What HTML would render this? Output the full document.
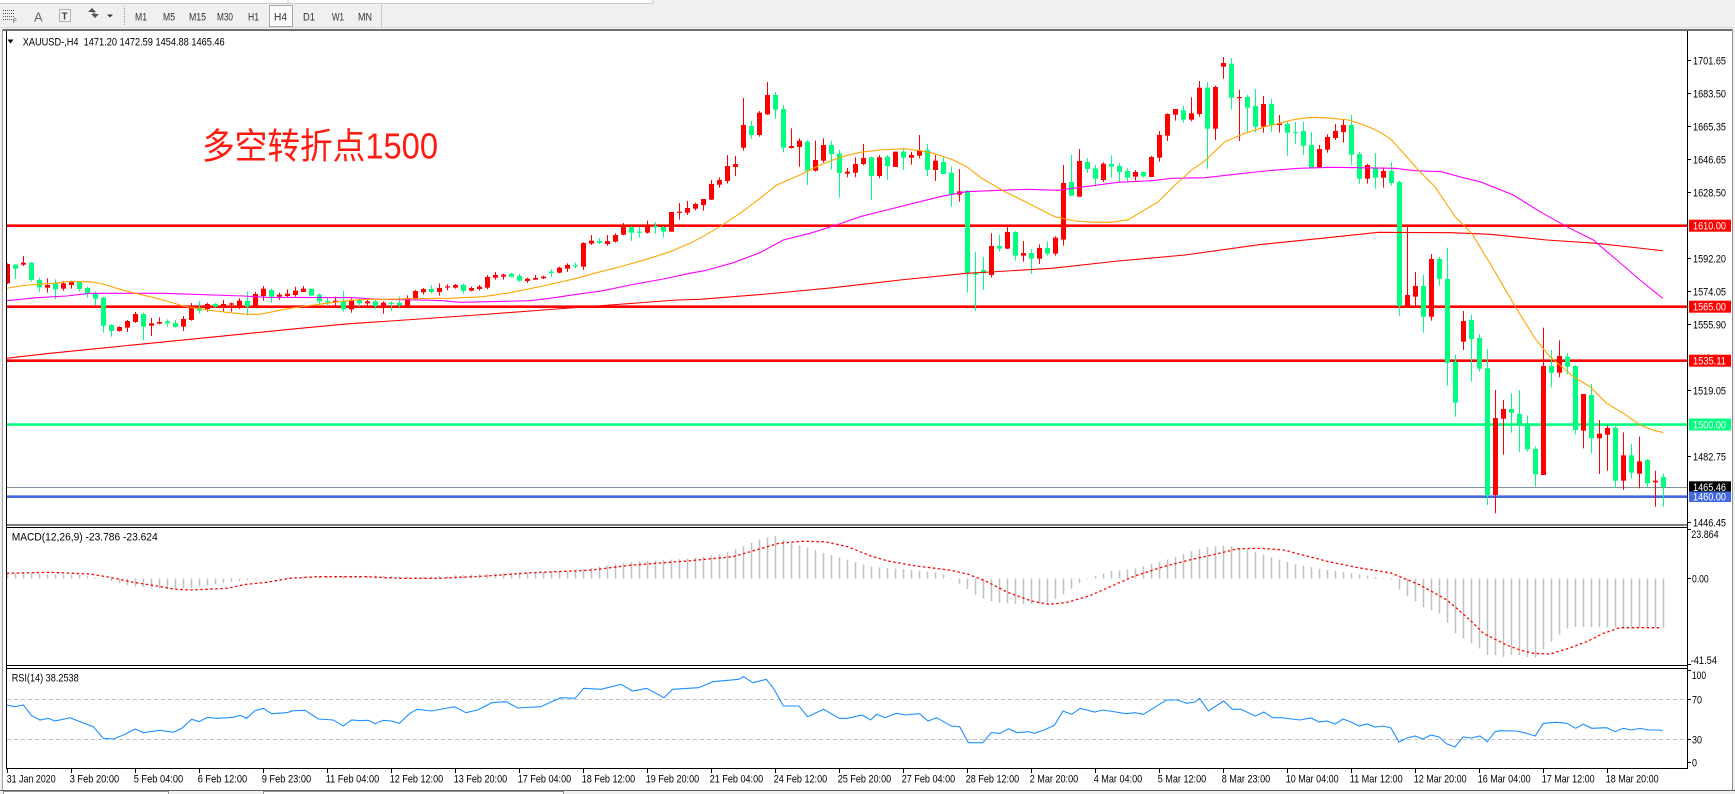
<!DOCTYPE html>
<html><head><meta charset="utf-8">
<style>
html,body{margin:0;padding:0;background:#f0f0f0;}
body{width:1735px;height:794px;overflow:hidden;position:relative;}
svg{position:absolute;left:0;top:0;}
text{font-family:"Liberation Sans","Noto Sans CJK SC",sans-serif;}
</style></head><body>
<svg id="s" width="1735" height="794" xmlns="http://www.w3.org/2000/svg">
<defs>
<clipPath id="cMain"><rect x="7" y="32" width="1680" height="493"/></clipPath>
<clipPath id="cMacd"><rect x="7" y="528" width="1680" height="137.5"/></clipPath>
<clipPath id="cRsi"><rect x="7" y="669" width="1680" height="99.5"/></clipPath>
</defs>
<!-- toolbar -->
<rect x="0" y="0" width="1735" height="29" fill="#f0f0f0"/>
<rect x="0" y="0" width="653" height="3.5" fill="#fdfdfd"/>
<line x1="0" y1="3.5" x2="653" y2="3.5" stroke="#c8c8c8"/>
<line x1="288" y1="0" x2="288" y2="3.5" stroke="#c8c8c8"/>
<line x1="653" y1="0" x2="653" y2="3.5" stroke="#c8c8c8"/>
<line x1="0" y1="27.5" x2="1735" y2="27.5" stroke="#dcdcdc"/>
<g stroke="#555" stroke-width="1" stroke-dasharray="1,1">
<line x1="3" y1="10.5" x2="15" y2="10.5"/><line x1="3" y1="13.5" x2="15" y2="13.5"/><line x1="3" y1="16.5" x2="15" y2="16.5"/><line x1="3" y1="19.5" x2="13" y2="19.5"/>
</g>
<text x="13" y="23" font-size="6" fill="#333">F</text>
<text x="34" y="21.5" font-size="13" fill="#666">A</text>
<rect x="59.5" y="9.5" width="11" height="12" fill="none" stroke="#777" stroke-dasharray="1,1"/>
<text x="61.5" y="19.5" font-size="10" fill="#444" font-weight="bold">T</text>
<polygon points="88,12 92,8 96,12" fill="#555"/>
<polygon points="91,14 95,18 99,14" fill="#555"/>
<line x1="92" y1="11" x2="96" y2="15" stroke="#555"/>
<polygon points="107,14.5 113,14.5 110,17.5" fill="#333"/>
<line x1="124.5" y1="6" x2="124.5" y2="26" stroke="#999" stroke-dasharray="1,1"/>
<rect x="269.5" y="5.5" width="23" height="21" fill="#fbfbfb" stroke="#a8a8a8"/>
<g font-size="11" fill="#333">
<text x="135" y="20.5" textLength="12" lengthAdjust="spacingAndGlyphs">M1</text>
<text x="163" y="20.5" textLength="12" lengthAdjust="spacingAndGlyphs">M5</text>
<text x="189" y="20.5" textLength="17" lengthAdjust="spacingAndGlyphs">M15</text>
<text x="217" y="20.5" textLength="16" lengthAdjust="spacingAndGlyphs">M30</text>
<text x="248" y="20.5" textLength="11" lengthAdjust="spacingAndGlyphs">H1</text>
<text x="274" y="20.5" textLength="13" lengthAdjust="spacingAndGlyphs">H4</text>
<text x="303" y="20.5" textLength="12" lengthAdjust="spacingAndGlyphs">D1</text>
<text x="332" y="20.5" textLength="12" lengthAdjust="spacingAndGlyphs">W1</text>
<text x="358" y="20.5" textLength="14" lengthAdjust="spacingAndGlyphs">MN</text>
</g>
<line x1="381.5" y1="5" x2="381.5" y2="27" stroke="#c8c8c8"/>

<!-- window -->
<rect x="3" y="29" width="1729" height="761.5" fill="#ffffff"/>
<line x1="2.5" y1="29" x2="2.5" y2="791" stroke="#a0a0a0"/>
<line x1="3" y1="30" x2="1732" y2="30" stroke="#404040" stroke-width="1.5"/>
<line x1="1732.5" y1="29" x2="1732.5" y2="791" stroke="#909090"/>
<rect x="0" y="790.5" width="1735" height="4" fill="#f0f0f0"/>
<line x1="0" y1="790.5" x2="1735" y2="790.5" stroke="#606060"/>
<rect x="3.5" y="791.5" width="165" height="3" fill="#fff" stroke="#909090"/>
<rect x="263.5" y="791.5" width="300" height="3" fill="#fff" stroke="#909090"/>

<!-- horizontal object lines -->
<g clip-path="url(#cMain)">
<line x1="7" y1="225.7" x2="1687" y2="225.7" stroke="#ff0000" stroke-width="2.6"/>
<line x1="7" y1="306.7" x2="1687" y2="306.7" stroke="#ff0000" stroke-width="2.6"/>
<line x1="7" y1="360.7" x2="1687" y2="360.7" stroke="#ff0000" stroke-width="2.6"/>
<line x1="7" y1="424.6" x2="1687" y2="424.6" stroke="#00ff7f" stroke-width="2.6"/>
<line x1="7" y1="487.5" x2="1687" y2="487.5" stroke="#8090a0" stroke-width="1"/>
<line x1="7" y1="496.7" x2="1687" y2="496.7" stroke="#4169e1" stroke-width="2.6"/>
<g id="candles"></g>
<g id="mas" fill="none" stroke-width="1"></g>
</g>
<g clip-path="url(#cMacd)"><g id="macd"></g></g>
<g clip-path="url(#cRsi)">
<line x1="7" y1="699.5" x2="1687" y2="699.5" stroke="#c0c0c0" stroke-dasharray="4,3"/>
<line x1="7" y1="739.5" x2="1687" y2="739.5" stroke="#c0c0c0" stroke-dasharray="4,3"/>
<g id="rsi"></g>
</g>

<!-- frames -->
<g fill="none" stroke="#000" stroke-width="1">
<line x1="6.5" y1="31" x2="6.5" y2="769" />
<line x1="1687.5" y1="31" x2="1687.5" y2="769" />
<line x1="6.5" y1="525" x2="1687.5" y2="525"/>
<line x1="6.5" y1="527.5" x2="1687.5" y2="527.5"/>
<line x1="6.5" y1="665.5" x2="1687.5" y2="665.5"/>
<line x1="6.5" y1="668.5" x2="1687.5" y2="668.5"/>
<line x1="6.5" y1="768.5" x2="1687.5" y2="768.5"/>
</g>
<g stroke="#000" stroke-width="1">
<line x1="1687" y1="60.5" x2="1691" y2="60.5"/><line x1="1687" y1="93.5" x2="1691" y2="93.5"/>
<line x1="1687" y1="126.5" x2="1691" y2="126.5"/><line x1="1687" y1="159.5" x2="1691" y2="159.5"/>
<line x1="1687" y1="192.5" x2="1691" y2="192.5"/><line x1="1687" y1="258.5" x2="1691" y2="258.5"/>
<line x1="1687" y1="291.5" x2="1691" y2="291.5"/><line x1="1687" y1="324.5" x2="1691" y2="324.5"/>
<line x1="1687" y1="390.5" x2="1691" y2="390.5"/><line x1="1687" y1="456.5" x2="1691" y2="456.5"/>
<line x1="1687" y1="522.5" x2="1691" y2="522.5"/>
<line x1="1687" y1="529.5" x2="1691" y2="529.5"/><line x1="1687" y1="578.5" x2="1691" y2="578.5"/>
<line x1="1687" y1="664.5" x2="1691" y2="664.5"/>
<line x1="1687" y1="670.5" x2="1691" y2="670.5"/><line x1="1687" y1="699.5" x2="1691" y2="699.5"/>
<line x1="1687" y1="739.5" x2="1691" y2="739.5"/><line x1="1687" y1="762.5" x2="1691" y2="762.5"/>
</g>
<g stroke="#000" id="tticks"></g>

<!-- price axis labels -->
<g font-size="11" fill="#000">
<text x="1693" y="64.3" textLength="33" lengthAdjust="spacingAndGlyphs">1701.65</text>
<text x="1693" y="97.3" textLength="33" lengthAdjust="spacingAndGlyphs">1683.50</text>
<text x="1693" y="130.3" textLength="33" lengthAdjust="spacingAndGlyphs">1665.35</text>
<text x="1693" y="163.3" textLength="33" lengthAdjust="spacingAndGlyphs">1646.65</text>
<text x="1693" y="196.3" textLength="33" lengthAdjust="spacingAndGlyphs">1628.50</text>
<text x="1693" y="262.3" textLength="33" lengthAdjust="spacingAndGlyphs">1592.20</text>
<text x="1693" y="295.7" textLength="33" lengthAdjust="spacingAndGlyphs">1574.05</text>
<text x="1693" y="328.3" textLength="33" lengthAdjust="spacingAndGlyphs">1555.90</text>
<text x="1693" y="394.7" textLength="33" lengthAdjust="spacingAndGlyphs">1519.05</text>
<text x="1693" y="460.7" textLength="33" lengthAdjust="spacingAndGlyphs">1482.75</text>
<text x="1693" y="526.7" textLength="33" lengthAdjust="spacingAndGlyphs">1446.45</text>
<text x="1691.3" y="538" textLength="27.3" lengthAdjust="spacingAndGlyphs">23.864</text>
<text x="1692" y="582.7" textLength="16.7" lengthAdjust="spacingAndGlyphs">0.00</text>
<text x="1690.7" y="664" textLength="26.3" lengthAdjust="spacingAndGlyphs">-41.54</text>
<text x="1692" y="679" textLength="14" lengthAdjust="spacingAndGlyphs">100</text>
<text x="1692" y="703.3" textLength="10" lengthAdjust="spacingAndGlyphs">70</text>
<text x="1692" y="743.3" textLength="10" lengthAdjust="spacingAndGlyphs">30</text>
<text x="1692" y="766.7" textLength="5" lengthAdjust="spacingAndGlyphs">0</text>
</g>
<!-- boxed labels -->
<rect x="1689" y="219.7" width="42" height="12" fill="#ff0000"/>
<rect x="1689" y="300.7" width="42" height="12" fill="#ff0000"/>
<rect x="1689" y="354.7" width="42" height="12" fill="#ff0000"/>
<rect x="1689" y="418.5" width="42" height="12" fill="#00ff7f"/>
<rect x="1689" y="481.3" width="42" height="11.5" fill="#000000"/>
<rect x="1689" y="491.5" width="42" height="10.5" fill="#4169e1"/>
<g font-size="11" fill="#fff">
<text x="1693" y="229.7" textLength="33" lengthAdjust="spacingAndGlyphs">1610.00</text>
<text x="1693" y="310.7" textLength="33" lengthAdjust="spacingAndGlyphs">1565.00</text>
<text x="1693" y="364.7" textLength="33" lengthAdjust="spacingAndGlyphs">1535.11</text>
<text x="1693" y="428.5" textLength="33" lengthAdjust="spacingAndGlyphs">1500.00</text>
<text x="1693" y="491" textLength="33" lengthAdjust="spacingAndGlyphs">1465.46</text>
<text x="1693" y="500.7" textLength="33" lengthAdjust="spacingAndGlyphs">1460.00</text>
</g>

<!-- titles -->
<polygon points="7.5,39.5 13.5,39.5 10.5,43.5" fill="#000"/>
<text x="22.7" y="45.7" font-size="11" fill="#000" textLength="202" lengthAdjust="spacingAndGlyphs">XAUUSD-,H4&#160; 1471.20 1472.59 1454.88 1465.46</text>
<text x="11.7" y="540.7" font-size="11" fill="#000" textLength="146" lengthAdjust="spacingAndGlyphs">MACD(12,26,9) -23.786 -23.624</text>
<text x="11.7" y="681.7" font-size="11" fill="#000" textLength="67" lengthAdjust="spacingAndGlyphs">RSI(14) 38.2538</text>
<text x="202" y="158.5" font-size="36" fill="#ff1a10" textLength="236" lengthAdjust="spacingAndGlyphs" style='font-family:"Liberation Sans","Noto Sans CJK SC",sans-serif'>多空转折点1500</text>

<!-- time axis -->
<g font-size="11" fill="#000">
<text x="6.7" y="782.7" textLength="49" lengthAdjust="spacingAndGlyphs">31 Jan 2020</text>
<text x="69.7" y="782.7" textLength="49.5" lengthAdjust="spacingAndGlyphs">3 Feb 20:00</text>
<text x="133.7" y="782.7" textLength="49.5" lengthAdjust="spacingAndGlyphs">5 Feb 04:00</text>
<text x="197.7" y="782.7" textLength="49.5" lengthAdjust="spacingAndGlyphs">6 Feb 12:00</text>
<text x="261.7" y="782.7" textLength="49.5" lengthAdjust="spacingAndGlyphs">9 Feb 23:00</text>
<text x="325.7" y="782.7" textLength="53.5" lengthAdjust="spacingAndGlyphs">11 Feb 04:00</text>
<text x="389.7" y="782.7" textLength="53.5" lengthAdjust="spacingAndGlyphs">12 Feb 12:00</text>
<text x="453.7" y="782.7" textLength="53.5" lengthAdjust="spacingAndGlyphs">13 Feb 20:00</text>
<text x="517.7" y="782.7" textLength="53.5" lengthAdjust="spacingAndGlyphs">17 Feb 04:00</text>
<text x="581.7" y="782.7" textLength="53.5" lengthAdjust="spacingAndGlyphs">18 Feb 12:00</text>
<text x="645.7" y="782.7" textLength="53.5" lengthAdjust="spacingAndGlyphs">19 Feb 20:00</text>
<text x="709.7" y="782.7" textLength="53.5" lengthAdjust="spacingAndGlyphs">21 Feb 04:00</text>
<text x="773.7" y="782.7" textLength="53.5" lengthAdjust="spacingAndGlyphs">24 Feb 12:00</text>
<text x="837.7" y="782.7" textLength="53.5" lengthAdjust="spacingAndGlyphs">25 Feb 20:00</text>
<text x="901.7" y="782.7" textLength="53.5" lengthAdjust="spacingAndGlyphs">27 Feb 04:00</text>
<text x="965.7" y="782.7" textLength="53.5" lengthAdjust="spacingAndGlyphs">28 Feb 12:00</text>
<text x="1029.7" y="782.7" textLength="48.5" lengthAdjust="spacingAndGlyphs">2 Mar 20:00</text>
<text x="1093.7" y="782.7" textLength="48.5" lengthAdjust="spacingAndGlyphs">4 Mar 04:00</text>
<text x="1157.7" y="782.7" textLength="48.5" lengthAdjust="spacingAndGlyphs">5 Mar 12:00</text>
<text x="1221.7" y="782.7" textLength="48.5" lengthAdjust="spacingAndGlyphs">8 Mar 23:00</text>
<text x="1285.7" y="782.7" textLength="53" lengthAdjust="spacingAndGlyphs">10 Mar 04:00</text>
<text x="1349.7" y="782.7" textLength="53" lengthAdjust="spacingAndGlyphs">11 Mar 12:00</text>
<text x="1413.7" y="782.7" textLength="53" lengthAdjust="spacingAndGlyphs">12 Mar 20:00</text>
<text x="1477.7" y="782.7" textLength="53" lengthAdjust="spacingAndGlyphs">16 Mar 04:00</text>
<text x="1541.7" y="782.7" textLength="53" lengthAdjust="spacingAndGlyphs">17 Mar 12:00</text>
<text x="1605.7" y="782.7" textLength="53" lengthAdjust="spacingAndGlyphs">18 Mar 20:00</text>
</g>
</svg>
<script>
(function(){
var NS="http://www.w3.org/2000/svg";
function mk(p,t,a){var e=document.createElementNS(NS,t);for(var k in a)e.setAttribute(k,a[k]);p.appendChild(e);return e;}
var RED="#ff0000",GRN="#00ff7f";
var segs=[
[230,0,[[100,102,160,162,1],[104,104,116,147,0],[78,98,104,108,1],[96,98,150,155,0],[143,150,172,185,0],[145,165,173,188,1],[148,160,178,208,0],[153,160,176,182,1],[152,155,165,176,1],[153,155,177,185,0],[170,174,190,203,0],[185,190,206,226,0],[200,203,287,308,0],[283,285,303,320,0],[289,291,303,305,1],[270,273,293,306,1],[246,252,276,279,1],[248,252,290,330,0],[264,280,287,318,1],[262,276,281,283,1],[268,274,280,290,0],[270,279,291,293,0],[258,267,290,303,1],[219,232,270,272,1],[213,233,242,250,0],[218,222,237,245,1],[219,222,230,233,0],[210,222,232,245,1],[218,220,224,245,1],[205,212,232,237,1],[184,212,230,256,0],[186,192,229,232,1],[168,176,198,212,1],[176,180,200,218,0],[188,194,200,210,1],[178,191,198,202,1],[170,182,195,200,1],[168,176,186,186,1],[176,176,197,197,0],[190,194,214,228,0],[204,213,216,228,0],[200,212,216,228,1],[183,214,238,245,0],[205,212,238,248,1],[205,210,220,230,0],[210,214,220,228,1],[210,214,228,238,0],[214,218,226,251,1],[214,218,220,242,0],[200,218,226,232,0],[196,204,228,232,1]]],
[130,51,[[480,483,505,508,1],[474,477,487,494,1],[465,477,486,490,0],[460,474,486,497,1],[463,469,472,481,1],[462,465,473,476,1],[460,465,483,491,0],[470,474,482,484,1],[465,470,477,482,1],[435,441,473,478,1],[426,435,443,449,1],[431,434,440,449,1],[428,431,440,442,0],[432,438,452,455,0],[443,446,453,459,1],[435,444,449,450,1],[437,440,445,447,1],[418,425,428,441,0],[410,413,428,430,1],[400,405,416,426,1],[398,406,409,415,0],[337,339,410,420,1],[315,332,341,345,1],[324,333,338,342,0],[315,333,342,347,1],[310,315,335,338,1],[279,289,314,316,1],[289,292,308,333,0],[290,305,307,322,0],[272,289,308,311,1],[276,288,291,311,0],[288,291,305,323,0],[246,246,305,305,1],[219,245,247,269,1],[213,234,248,255,1],[218,222,236,241,1]]],
[70,87,[[387,387,405,422,1],[330,342,389,390,1],[322,330,344,353,1],[255,288,333,341,1],[258,282,291,318,1],[84,165,233,242,1],[153,168,195,207,0],[123,128,195,200,1],[36,75,133,135,1],[66,75,119,146,0],[105,117,233,247,0],[175,228,234,236,1],[205,212,231,290,1],[210,215,302,345,0],[212,270,302,305,1],[205,225,272,278,1],[212,225,252,299,0],[240,251,309,383,0],[294,305,311,322,1],[262,282,308,322,1],[222,264,282,286,1],[260,262,318,390,0],[255,262,318,325,1],[255,260,288,330,0],[245,245,291,291,1],[237,245,263,300,0],[245,255,263,284,1],[195,241,257,265,1],[222,240,300,318,0],[255,272,300,333,1],[262,276,312,312,0],[290,308,374,410,0],[297,364,374,395,1],[360,362,610,668,0],[546,608,614,722,0],[561,600,610,660,0]]],
[45,123,[[565,603,690,697,1],[570,603,611,620,0],[538,561,611,612,1],[558,561,632,647,0],[588,624,632,650,1],[612,624,641,687,0],[598,609,641,657,1],[590,609,626,632,0],[574,578,626,632,1],[360,414,584,602,1],[330,411,452,452,0],[312,348,455,455,1],[339,351,372,384,0],[360,370,401,424,0],[352,356,405,411,1],[331,357,365,398,0],[354,363,381,413,0],[370,378,398,412,0],[375,381,395,407,1],[379,381,394,398,0],[333,336,396,397,1],[258,270,338,350,1],[205,207,272,288,1],[192,192,209,227,1],[183,196,224,234,0],[157,205,224,229,1],[108,128,207,215,1],[111,128,251,371,0],[122,126,251,285,1],[36,54,65,101,1],[39,56,158,194,0],[134,156,159,288,1],[150,156,188,262,0],[132,183,245,262,0]]],
[45,157,[[153,177,245,263,1],[162,177,240,260,0],[210,236,240,263,1],[230,237,263,332,0],[231,261,263,296,0],[231,258,302,330,0],[262,300,369,369,0],[300,312,369,369,1],[268,276,314,323,1],[237,258,279,285,1],[225,240,261,293,1],[210,240,329,359,0],[321,327,401,416,0],[356,360,401,416,1],[324,369,398,431,0]]],
[140,172,[[82,93,113,143,1],[66,93,129,137,0],[122,126,498,527,0],[260,465,500,500,1],[396,438,470,500,1],[405,438,530,578,0],[342,357,530,542,1],[350,357,416,437,0],[323,417,668,737,0],[645,665,788,830,0],[513,543,605,630,1],[525,540,597,725,0],[582,594,686,695,0]]],
[260,185,[[267,325,705,735,0],[390,474,705,760,1],[420,447,476,584,1],[400,447,458,518,0],[390,462,494,575,0],[467,490,568,575,0],[560,567,643,680,0],[203,318,645,645,1],[270,318,338,382,0],[241,288,338,352,1],[279,290,320,343,0],[315,318,510,523,0],[402,402,512,565,1],[372,405,535,580,0],[480,521,535,642,1],[497,504,524,632,1],[499,504,662,685,0],[517,586,662,690,1],[551,586,638,655,0],[530,604,641,685,1],[597,600,670,682,0],[632,662,667,740,1],[641,651,681,740,0]]]
];
var gc=document.getElementById("candles");
segs.forEach(function(s){var y0=s[0],st=s[1];s[2].forEach(function(c,j){var i=st+j;var cx=7+8*i;
var hi=y0+c[0]/3,top=y0+c[1]/3,bot=y0+c[2]/3,lo=y0+c[3]/3;var col=c[4]?RED:GRN;
mk(gc,"rect",{x:cx,y:hi.toFixed(2),width:1,height:Math.max(1,lo-hi).toFixed(2),fill:col});
mk(gc,"rect",{x:cx-2,y:top.toFixed(2),width:5,height:Math.max(1.2,bot-top).toFixed(2),fill:col});
});});
function pl(p,pts,attrs){var a={points:pts.map(function(q){return q[0]+","+q[1];}).join(" "),fill:"none"};for(var k in attrs)a[k]=attrs[k];return mk(p,"polyline",a);}
var gm=document.getElementById("mas");
var RMA=[[6.7,358.3],[20,356.7],[50,353.3],[100,348.3],[150,343.3],[200,338.3],[250,333.3],[300,328.3],[350,323.7],[420,319],[476.7,315],[543.3,310],[610,305],[676.7,300],[700,299.3],[766.7,294],[833.3,287.7],[900,280],[966.7,273.3],[990,272],[1051.7,268.3],[1118.3,261],[1185,255],[1260,244.6],[1321.7,238.3],[1378.3,232.3],[1451.7,232.7],[1490,234.3],[1546.7,240],[1596.7,243.3],[1662.7,250.7]];
var MMA=[[6.7,300.7],[36.7,297.7],[66.7,296],[90,293.3],[163.3,293.3],[243.3,296],[266.7,297.3],[353.3,297.7],[380,299.3],[420,300],[443.3,300.7],[460,302.3],[490,301.7],[530,300.7],[550,298.3],[576.7,294.3],[603.3,290.7],[630,285],[663.3,279],[690,273.3],[705,270.6],[733.3,262.7],[760,252.7],[783.3,240],[810,233.3],[836.7,225],[860,216.7],[886.7,210],[913.3,203.3],[940,196.7],[966.7,191.7],[990,190.7],[1028.3,189.3],[1058.3,190.3],[1085,186.7],[1118.3,182.3],[1151.7,180.7],[1171.7,178.3],[1205,177.7],[1235,174.3],[1265,171],[1298.7,168.3],[1332,167.3],[1395,168.3],[1415,170.7],[1441.7,171.7],[1461.7,177.3],[1480,181.7],[1513.3,195],[1540,211.7],[1566.7,226.7],[1593.3,240],[1616.7,260],[1640,280],[1662.7,298.3]];
var OMA=[[6.7,288.3],[20,286],[36.7,284.3],[53,283.3],[66.7,281.7],[90,281.7],[103,284],[120,289.3],[133,292.7],[150,296.7],[166.7,301],[183,306],[206.7,310],[230,312.7],[246.7,314.3],[260,314.3],[273,311.7],[290,308.3],[306.7,306],[326.7,303.3],[346.7,300.7],[366.7,299.3],[386.7,299.3],[410,298.7],[450,298.3],[483,296.7],[510,292.7],[543,286],[576.7,278.3],[596.7,272.7],[623,266],[650,258.3],[670,251.7],[690,243.3],[705,235.3],[720,226.7],[740,213.3],[760,198.3],[776.7,185],[800,175],[820,165],[840,157.3],[860,152.3],[880,150],[903.3,148.7],[920,150.7],[933.3,153.3],[953.3,160],[966.7,166.7],[982,178.5],[1005,191.7],[1028.3,203.3],[1055,216.7],[1075,221],[1095,222.3],[1111.7,222.3],[1128.3,219.7],[1141.7,211.7],[1158.3,201.7],[1175,185],[1191.7,170],[1205,160.7],[1225,141.7],[1245,133.3],[1265,126.7],[1275.3,124.3],[1292,120],[1302,118.3],[1315.3,117.3],[1332,118.3],[1348.7,120],[1358.7,123.3],[1368.7,126.7],[1382,133.3],[1391.7,140],[1418.3,170],[1435,186.7],[1455,216.7],[1471.7,233.3],[1490,263.3],[1513.3,303.3],[1535,338.3],[1550,356.7],[1573.3,376.7],[1590,386.7],[1606.7,403.3],[1623.3,413.3],[1640,425],[1650,429],[1663.3,432.7]];
pl(gm,RMA,{stroke:"#ff0000","stroke-width":1.1});
pl(gm,MMA,{stroke:"#ff00ff","stroke-width":1.1});
pl(gm,OMA,{stroke:"#ffa500","stroke-width":1.1});
function interp(P,x){if(x<=P[0][0])return P[0][1];for(var k=1;k<P.length;k++){if(x<=P[k][0]){var a=P[k-1],b=P[k];return a[1]+(b[1]-a[1])*(x-a[0])/(b[0]-a[0]);}}return P[P.length-1][1];}
var H=[[7,573.5],[40,574],[80,575],[100,578],[115,582],[130,586],[150,588],[170,589],[190,588],[210,585],[230,582],[250,580],[265,578.5],[290,577],[320,576],[380,575.5],[420,577],[457,575.3],[515,572.7],[572,571],[607,565.3],[630,562],[687,558.7],[721.5,554.3],[744,546],[761.7,538.7],[776,536],[790,542.7],[807.6,547.7],[824.8,553.3],[847.8,560],[870.7,566.7],[905,569.3],[939.6,572.7],[951,578.3],[968,589.3],[979.8,597.7],[997,602.7],[1025.7,604.3],[1048.7,603.3],[1066,592.7],[1077.4,584.3],[1089,578.3],[1111.8,571],[1134.8,568.7],[1163.5,561],[1192,551],[1209.4,546.7],[1226.6,545.3],[1249.6,550],[1272.6,557.7],[1295.5,564.3],[1327,570],[1351,573],[1375,577],[1391,579],[1399,589],[1407,596],[1415,601],[1423,607],[1431,610],[1439,613],[1447,622],[1455,633],[1463,638],[1471,643],[1479,648],[1487,655],[1495,655],[1503,657],[1511,655],[1519,655],[1527,657],[1535,658],[1543,650],[1551,642],[1559,635],[1567,628.7],[1575,627],[1663,627.7]];
var gmacd=document.getElementById("macd");
for(var i=0;i<208;i++){var x=7.5+8*i;var y=interp(H,x);var t=Math.min(y,578.5),b=Math.max(y,578.5);
mk(gmacd,"rect",{x:(x-0.75).toFixed(2),y:t.toFixed(2),width:1.5,height:Math.max(0.6,b-t).toFixed(2),fill:"#c0c0c0"});}
var S=[[6.7,573.3],[50,572.3],[90,574],[110,577.3],[133.3,582.3],[156.7,586],[173.3,589],[190,590],[226.7,588.3],[246.7,584.3],[266.7,582.3],[290,578.3],[316.7,576.7],[366.7,576.7],[400,578.3],[440,578.3],[486,576],[532,572.7],[589.4,570.3],[629.6,565.3],[687,561],[733,556.7],[756,550],[778.9,543.3],[801.8,541.3],[824.8,541.7],[847.8,546.7],[870.7,556],[888,561],[916.6,566],[951,570.3],[968.3,574.3],[985.5,581],[1008.5,592.7],[1031.5,601],[1048.7,604.3],[1065.9,602.7],[1088.9,596],[1111.8,586],[1134.8,576],[1163.5,566.7],[1192.2,559.3],[1215.2,554.3],[1238,548.7],[1261,548.3],[1284,550],[1300,554.3],[1330,562],[1360,568],[1391,573],[1420,585],[1447,600],[1470,620],[1483.3,633.3],[1493.3,638.3],[1506.7,645],[1520,650],[1533.3,653.3],[1550,654],[1566.7,649],[1586.7,641.7],[1603.3,633.3],[1620,627.7],[1660,627.7]];
pl(gmacd,S,{stroke:"#ff0000","stroke-width":1.3,"stroke-dasharray":"2.5,2.5"});
var R=[[6.7,705],[15,706.7],[23.3,705],[31.7,715.7],[40,720],[48.3,718.3],[55,721],[70,717.7],[80,721.7],[93.3,726.7],[103.3,738.3],[113.3,739],[123.3,735],[135,729],[143.3,732.7],[160,730.3],[173.3,732.3],[181.7,728.3],[191.7,719.3],[199.3,721.7],[207.3,717.3],[216.7,718.3],[233.3,717.3],[240,715.3],[246.7,718.3],[255,710.7],[263.3,708.3],[271.7,713.7],[286.7,712.7],[293.3,710.7],[305,710.3],[318.3,719],[333.3,720],[343.3,726],[351.7,720],[360,720.7],[368.3,720.3],[375,723.7],[383.3,720.3],[391.7,721],[399.3,723.3],[410,713.3],[417.2,709.3],[431.6,711],[454.5,706.7],[466,712.7],[477.5,710],[491.8,702.7],[506.2,701.7],[517.7,708],[540.6,706.7],[560.7,697.7],[575.1,698.3],[583.7,688.3],[600.9,689.3],[621,684.3],[632.5,691],[646.8,688.3],[664,697.7],[672.7,689.3],[698.5,687.7],[712.9,681.7],[738.7,679.3],[743.3,676.7],[753,682.7],[766.2,679.3],[773.1,687.7],[783.5,706],[799,706],[807.6,716.7],[823.7,709.3],[839.2,718.3],[847.8,718.3],[862.1,715],[870.7,720],[876.5,714.3],[885,717.7],[896.6,713.3],[905.2,715],[919.5,713.7],[928.1,721],[936.7,717.7],[951.1,726],[959.7,726.7],[968.3,742.7],[982.7,742.7],[991.3,732.7],[999.9,733.3],[1008.5,728.7],[1017.1,732.7],[1028.6,731.7],[1034.3,733.3],[1045.8,729.3],[1054.4,725.3],[1063,711],[1071.6,714.3],[1080.3,708.3],[1094.6,712],[1103.2,710],[1126.2,713.7],[1134.8,712.7],[1143.4,714.3],[1166.4,700],[1177.8,700],[1186.4,703.3],[1195,702],[1199.7,698.3],[1208.3,711],[1223.8,701],[1232.4,709.3],[1241,709.3],[1255.3,716],[1263.9,712],[1272.6,717.7],[1281.2,717.7],[1300,720],[1311,718],[1319,722],[1327,721],[1335,724],[1343,719],[1351,722],[1359,726],[1367,724],[1375,727],[1383,726],[1391,728],[1399,742],[1407,738],[1415,736],[1423,739],[1431,735],[1439,737],[1447,744],[1455,747],[1463,737],[1471,738],[1480,736],[1487.3,741.7],[1495,731.7],[1500,730.7],[1516.7,731],[1526.7,733.3],[1535.3,736],[1543.3,723.3],[1556.7,722.3],[1566.7,723.3],[1575.7,728.3],[1583.3,724.3],[1591.7,728.3],[1606.7,727.7],[1615,731.7],[1623.3,728.3],[1631.7,730],[1640,728.3],[1648.3,730],[1660,730],[1662.7,731]];
pl(document.getElementById("rsi"),R,{stroke:"#1e90ff","stroke-width":1.1});
var tt=document.getElementById("tticks");
for(var k=0;k<26;k++){var xx=Math.round(6.7+64*k)+0.5;mk(tt,"line",{x1:xx,y1:769,x2:xx,y2:773});}
})();
</script>
</body></html>
